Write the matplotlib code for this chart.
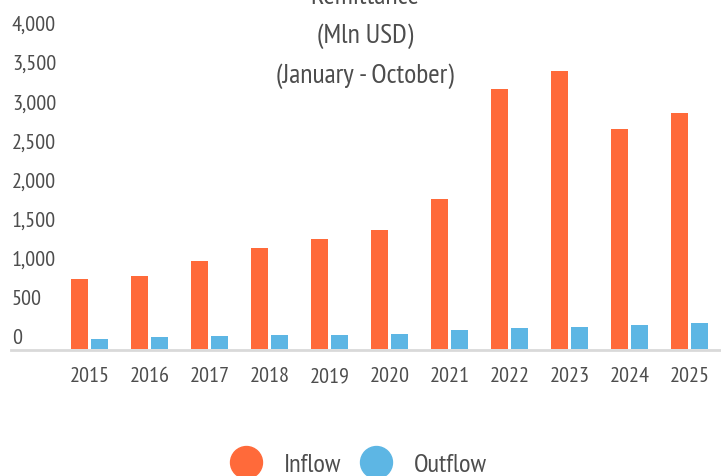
import matplotlib
matplotlib.use("Agg")
import matplotlib.pyplot as plt
from matplotlib.lines import Line2D
from matplotlib import transforms
import numpy as np

years = ["2015", "2016", "2017", "2018", "2019", "2020", "2021", "2022", "2023", "2024", "2025"]
inflow = [895, 937, 1129, 1291, 1406, 1521, 1917, 3323, 3553, 2812, 3016]
outflow = [128, 153, 166, 179, 179, 196, 243, 268, 281, 307, 332]
y_ticks = [0, 500, 1000, 1500, 2000, 2500, 3000, 3500, 4000]
title_lines = ["Remittance", "(Mln USD)", "(January - October)"]
series_names = ["Inflow", "Outflow"]

ORANGE = "#FF6A3A"
BLUE = "#5DB6E4"
TXT = "#4D4D4D"

plt.rcParams["font.family"] = ["PT Sans Narrow", "Archivo Narrow", "DejaVu Sans"]

W, H = 721, 477
fig = plt.figure(figsize=(W / 100, H / 100), dpi=100)
left_px, right_px = 11, 721
base_px, top_px = 350, 37
ax = fig.add_axes([left_px / W, (H - base_px) / H, (right_px - left_px) / W, (base_px - top_px) / H])

x = np.arange(len(years))
bw = 17 / 60
off = 10 / 60
ax.bar(x - off, inflow, width=bw, color=ORANGE, zorder=2)
ax.bar(x + off, outflow, width=bw, color=BLUE, zorder=2)

ax.set_xlim((left_px - 89.5) / 60, (right_px - 89.5) / 60)
ax.set_ylim(0, 4000)

for s in ["top", "right", "left"]:
    ax.spines[s].set_visible(False)
ax.spines["bottom"].set_color("#D9D9D9")
ax.spines["bottom"].set_linewidth(2.0)
ax.spines["bottom"].set_position(("outward", 1.0))

ax.set_xticks(x)
ax.set_xticklabels(years, fontsize=16, color=TXT)
ax.tick_params(axis="x", length=0, pad=11.5)
ax.set_yticks([])

blend = transforms.blended_transform_factory(ax.transAxes, ax.transData)
shift = transforms.ScaledTranslation(1 / 100, 11.5 / 100, fig.dpi_scale_trans)
for v in y_ticks:
    ax.text(0, v, f"{v:,}", transform=blend + shift, ha="left", va="center",
            fontsize=16, color=TXT)

for i, t in enumerate(title_lines):
    cy = -3.5 + 40 * i
    fig.text(365 / W, 1 - cy / H, t, ha="center", va="center", fontsize=20, color=TXT)

handles = [Line2D([], [], marker="o", linestyle="none", markersize=23, color=c)
           for c in (ORANGE, BLUE)]
fig.legend(handles, series_names, loc="center", bbox_to_anchor=(358.5 / W, 1 - 465.5 / H),
           ncol=2, frameon=False, fontsize=19, labelcolor=TXT, handletextpad=0.83,
           columnspacing=0.72, handlelength=1.2)

fig.savefig("out.png", dpi=100)
